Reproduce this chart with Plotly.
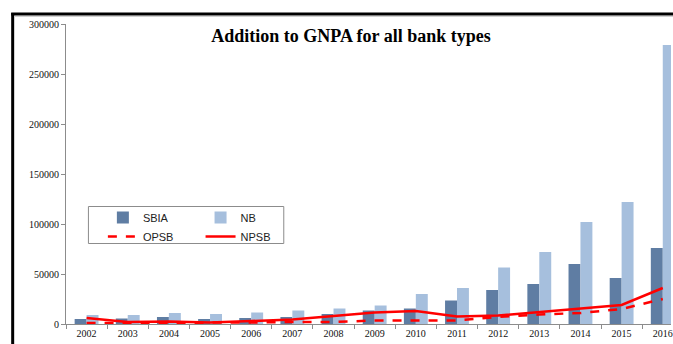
import plotly.graph_objects as go

# Yearly additions to gross NPAs by bank group
years = ["2002", "2003", "2004", "2005", "2006", "2007", "2008", "2009",
         "2010", "2011", "2012", "2013", "2014", "2015", "2016"]
sbia = [5000, 5500, 7000, 5000, 6000, 7000, 10000, 13500,
        15500, 23500, 34000, 40000, 60000, 46000, 76000]
nb = [9000, 9000, 11000, 10000, 11500, 13500, 15500, 18500,
      30000, 36000, 56500, 72000, 102000, 122000, 279000]
opsb = [1000, 1000, 1500, 1000, 1500, 2000, 2000, 3500,
        3500, 3500, 7000, 9500, 11000, 15000, 25000]
npsb = [6000, 2000, 2500, 1500, 3000, 4500, 8000, 11500,
        13000, 7500, 8500, 12000, 15000, 19000, 36000]

W, H = 673, 344
ML, MR, MT, MB = 66, 0, 24, 20
PW, PH = W - ML - MR, H - MT - MB


def px_x(x):
    return (x - ML) / PW


def px_y(y):
    return (H - MB - y) / PH


dark = "#5F7DA3"
light = "#A6BFDD"
red = "#FF0000"
axis_grey = "#8C8C8C"

fig = go.Figure()
fig.add_trace(go.Bar(x=years, y=sbia, name="SBIA", marker_color=dark,
                     marker_line_width=0, legend="legend"))
fig.add_trace(go.Bar(x=years, y=nb, name="NB", marker_color=light,
                     marker_line_width=0, legend="legend2"))
fig.add_trace(go.Scatter(x=years, y=opsb, name="OPSB", mode="lines",
                         line=dict(color=red, width=2.5, dash="dash"),
                         legend="legend"))
fig.add_trace(go.Scatter(x=years, y=npsb, name="NPSB", mode="lines",
                         line=dict(color=red, width=2.5),
                         legend="legend2"))

legend_font = dict(family="Liberation Sans, Arial, sans-serif", size=11,
                   color="#222222")
legend_common = dict(bgcolor="rgba(0,0,0,0)", borderwidth=0,
                     font=legend_font, orientation="v",
                     xanchor="left", yanchor="top", itemclick=False)

fig.update_layout(
    width=W, height=H,
    margin=dict(l=ML, r=MR, t=MT, b=MB, pad=0),
    paper_bgcolor="white", plot_bgcolor="white",
    barmode="group", bargap=0.42, bargroupgap=0,
    title=dict(text="<b>Addition to GNPA for all bank types</b>",
               font=dict(family="Liberation Serif, Times New Roman, serif",
                         size=18, color="black"),
               xref="container", yref="container",
               x=351 / W, y=1 - 36 / H, xanchor="center", yanchor="middle"),
    legend=dict(x=px_x(103), y=px_y(203), **legend_common),
    legend2=dict(x=px_x(201), y=px_y(203), **legend_common),
    xaxis=dict(type="category", range=[-0.5, 14.2],
               showline=True, linecolor=axis_grey, linewidth=1,
               ticks="outside", tickson="boundaries", ticklen=4,
               tickcolor=axis_grey, showgrid=False, zeroline=False,
               tickfont=dict(family="Liberation Serif, Times New Roman, serif",
                             size=10, color="#111111")),
    yaxis=dict(range=[0, 300000], dtick=50000, tickformat="d",
               showline=True, linecolor=axis_grey, linewidth=1,
               ticks="outside", ticklen=4, tickcolor=axis_grey,
               showgrid=False, zeroline=False,
               tickfont=dict(family="Liberation Serif, Times New Roman, serif",
                             size=10, color="#111111")),
    shapes=[
        # outer frame, top and left edges
        dict(type="line", xref="paper", yref="paper",
             x0=px_x(11), x1=px_x(W + 5), y0=px_y(14), y1=px_y(14),
             line=dict(color="black", width=3)),
        dict(type="line", xref="paper", yref="paper",
             x0=px_x(12.5), x1=px_x(12.5), y0=px_y(13), y1=px_y(H + 5),
             line=dict(color="black", width=3)),
        dict(type="line", xref="paper", yref="paper",
             x0=px_x(14), x1=px_x(W + 5), y0=px_y(16.5), y1=px_y(16.5),
             line=dict(color="#D0D0D0", width=1)),
        # legend box
        dict(type="rect", xref="paper", yref="paper",
             x0=px_x(88.5), x1=px_x(284.5), y0=px_y(206.5), y1=px_y(243.5),
             line=dict(color=axis_grey, width=1), fillcolor="white",
             layer="below"),
    ],
)

fig.write_html("out.html")
